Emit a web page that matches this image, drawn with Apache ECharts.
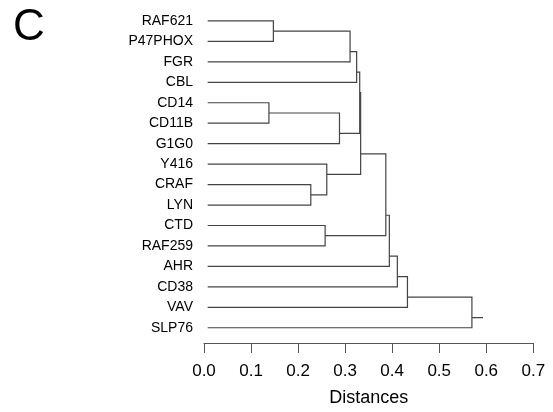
<!DOCTYPE html>
<html>
<head>
<meta charset="utf-8">
<script src="https://cdn.jsdelivr.net/npm/echarts@6/dist/echarts.min.js"></script>
<style>
html,body{margin:0;padding:0;background:#fff;}
#chart{width:553px;height:412px;}
</style>
</head>
<body>
<div id="chart"></div>
<script>
// Leaves, top to bottom
var leaves = ['RAF621','P47PHOX','FGR','CBL','CD14','CD11B','G1G0','Y416','CRAF','LYN','CTD','RAF259','AHR','CD38','VAV','SLP76'];
// Merge steps: child A (upper), child B (lower); 'L#' = leaf index, 'C#' = earlier merge
var mergeA = ['L0','C0','C1','L4','C3','L8','L7','L10','C2','C8','C9','C10','C11','C12','C13'];
var mergeB = ['L1','L2','L3','L5','L6','L9','C5','L11','C4','C6','C7','L12','L13','L14','L15'];
var mergeHeight = [0.1475,0.3105,0.3245,0.138,0.288,0.227,0.261,0.2575,0.331,0.333,0.3865,0.394,0.411,0.4325,0.5695];
var leafDistance = 0.0078;
var rootStub = 0.593;
var axisTicks = [0,0.1,0.2,0.3,0.4,0.5,0.6,0.7];

// derive node geometry from the merge table
var nodes = [];
function info(ref){
  var i = parseInt(ref.slice(1),10);
  if (ref[0]==='L') return {h: leafDistance, y: i, lo: i, hi: i};
  return nodes[i];
}
var links = [];
for (var k=0;k<mergeHeight.length;k++){
  var a = info(mergeA[k]), b = info(mergeB[k]);
  var h = mergeHeight[k];
  nodes.push({h:h, y:(a.hi + b.lo)/2, lo:Math.min(a.lo,b.lo), hi:Math.max(a.hi,b.hi)});
  links.push([a.h, a.y, h, b.y, b.h]);
}
var root = nodes[nodes.length-1];

var font = '"Liberation Sans", Arial, sans-serif';
var chart = echarts.init(document.getElementById('chart'));
chart.setOption({
  animation:false,
  backgroundColor:'#fff',
  graphic:[{type:'text', left:13, top:6, style:{text:'C', font:'44px ' + font, fill:'#000'}}],
  grid:{left:204, right:19.7, top:10.7, bottom:71.4},
  xAxis:{
    type:'value', min:axisTicks[0], max:axisTicks[axisTicks.length-1], interval:0.1, offset:5,
    axisLine:{show:true, onZero:false, lineStyle:{color:'#555', width:1}},
    axisTick:{show:true, length:10, inside:false, lineStyle:{color:'#555'}},
    splitLine:{show:false},
    axisLabel:{color:'#000', fontSize:17, fontFamily:font, margin:20, formatter:function(v){return v.toFixed(1);}},
    name:'Distances', nameLocation:'middle', nameGap:46,
    nameTextStyle:{color:'#000', fontSize:18, fontFamily:font}
  },
  yAxis:[
    {type:'category', data:leaves, inverse:true, boundaryGap:true,
     axisLine:{show:false}, axisTick:{show:false}, splitLine:{show:false},
     axisLabel:{color:'#000', fontSize:14, fontFamily:font, margin:11}},
    {type:'value', min:-0.5, max:15.5, inverse:true, show:false}
  ],
  series:[
    {type:'custom', xAxisIndex:0, yAxisIndex:1, data:links, silent:true,
     renderItem:function(params, api){
       var p1 = api.coord([api.value(0), api.value(1)]);
       var p2 = api.coord([api.value(2), api.value(1)]);
       var p3 = api.coord([api.value(2), api.value(3)]);
       var p4 = api.coord([api.value(4), api.value(3)]);
       return {type:'polyline', shape:{points:[p1,p2,p3,p4]},
               style:{stroke:'#444', lineWidth:1.2, fill:null}};
     }},
    {type:'line', xAxisIndex:0, yAxisIndex:1, data:[[root.h, root.y],[rootStub, root.y]],
     symbol:'none', silent:true, lineStyle:{color:'#444', width:1.2}}
  ]
});
</script>
</body>
</html>
